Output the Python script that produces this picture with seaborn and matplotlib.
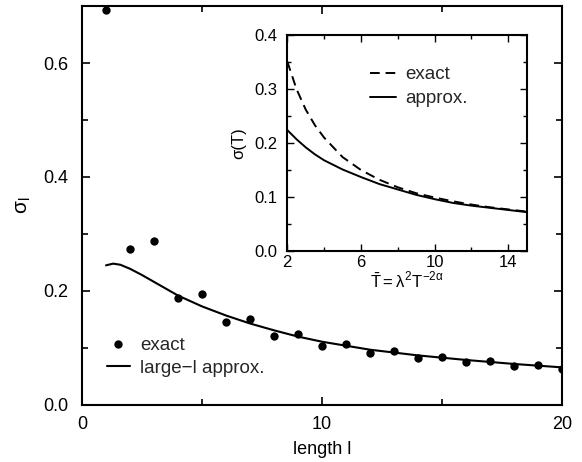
import numpy as np
import pandas as pd
import matplotlib
matplotlib.use("Agg")
import matplotlib.pyplot as plt
import seaborn as sns
from matplotlib.legend_handler import HandlerLine2D
from matplotlib.ticker import MultipleLocator, FixedLocator, FormatStrFormatter

# ---- main panel data ----
length_exact = [1, 2, 3, 4, 5, 6, 7, 8, 9, 10, 11, 12, 13, 14, 15, 16, 17, 18, 19, 20]
sigma_exact = [0.693, 0.274, 0.288, 0.188, 0.195, 0.146, 0.151, 0.121, 0.125, 0.104,
               0.107, 0.092, 0.094, 0.082, 0.084, 0.075, 0.077, 0.068, 0.070, 0.064]
length_approx = [1.0, 1.3, 1.6, 2.0, 2.5, 3.0, 3.5, 4.0, 5.0, 6.0, 7.0, 8.0, 9.0,
                 10.0, 12.0, 14.0, 16.0, 18.0, 20.0]
sigma_approx = [0.245, 0.248, 0.246, 0.239, 0.228, 0.216, 0.204, 0.192, 0.173, 0.157,
                0.143, 0.131, 0.120, 0.111, 0.097, 0.087, 0.079, 0.072, 0.066]

# ---- inset data ----
T_vals = [2, 2.5, 3, 3.5, 4, 5, 6, 7, 8, 9, 10, 11, 12, 13, 14, 15]
inset_exact = [0.351, 0.300, 0.262, 0.233, 0.210, 0.174, 0.150, 0.132, 0.118, 0.107,
               0.099, 0.092, 0.086, 0.081, 0.077, 0.073]
inset_approx = [0.224, 0.207, 0.192, 0.179, 0.168, 0.151, 0.137, 0.124, 0.114, 0.104,
                0.096, 0.089, 0.084, 0.080, 0.076, 0.072]

sns.set_theme(style="ticks")
plt.rcParams['font.family'] = ['Liberation Sans', 'DejaVu Sans']
plt.rcParams['mathtext.fontset'] = 'custom'
plt.rcParams['mathtext.rm'] = 'Liberation Sans'
plt.rcParams['mathtext.it'] = 'Liberation Sans'
plt.rcParams['mathtext.sf'] = 'Liberation Sans'
plt.rcParams['axes.linewidth'] = 1.5
plt.rcParams['axes.edgecolor'] = 'black'

fig = plt.figure(figsize=(5.82, 4.62), dpi=100)
ax = fig.add_axes([0.1409, 0.1234, 0.8247, 0.8636])

df_exact = pd.DataFrame({'l': length_exact, 's': sigma_exact})
df_approx = pd.DataFrame({'l': length_approx, 's': sigma_approx})

sns.lineplot(data=df_exact, x='l', y='s', ax=ax, color='black', linestyle='none',
             marker='o', markersize=6, markeredgewidth=0, label='exact')
sns.lineplot(data=df_approx, x='l', y='s', ax=ax, color='black', lw=1.5,
             label='large\u2212l approx.')

ax.set_xlim(0, 20)
ax.set_ylim(0, 0.7)
ax.xaxis.set_major_locator(MultipleLocator(10))
ax.xaxis.set_minor_locator(MultipleLocator(5))
ax.yaxis.set_major_locator(MultipleLocator(0.2))
ax.yaxis.set_minor_locator(MultipleLocator(0.1))
ax.yaxis.set_major_formatter(FormatStrFormatter('%.1f'))
ax.tick_params(which='both', direction='in', top=True, right=True, labelsize=13,
               color='black', labelcolor='black', width=1.2)
ax.tick_params(axis='x', which='both', pad=8)
ax.tick_params(axis='y', which='both', pad=10)
ax.tick_params(which='major', length=6)
ax.tick_params(which='minor', length=4)
ax.set_xlabel('length l', fontsize=13, color='black', labelpad=6)
ax.set_ylabel('\u03c3$_\\mathrm{l}$', fontsize=15, color='black', labelpad=7)


class RightMarker(HandlerLine2D):
    def get_xdata(self, legend, xdescent, ydescent, width, height, fontsize):
        xd, xm = super().get_xdata(legend, xdescent, ydescent, width, height, fontsize)
        return xd, [-xdescent + width * 0.95]


ax.legend(loc='lower left', bbox_to_anchor=(0.052, 0.07), frameon=False,
          fontsize=13.5, borderpad=0, borderaxespad=0, handlelength=1.23,
          handletextpad=0.53, labelspacing=0.3,
          handler_map={matplotlib.lines.Line2D: RightMarker()})

# ---- inset ----
ins = fig.add_axes([0.4936, 0.4567, 0.4114, 0.4675])
df_in = pd.DataFrame({'T': T_vals + T_vals,
                      'sig': inset_exact + inset_approx,
                      'kind': ['exact'] * len(T_vals) + ['approx.'] * len(T_vals)})
sns.lineplot(data=df_in, x='T', y='sig', hue='kind', style='kind', ax=ins,
             palette={'exact': 'black', 'approx.': 'black'},
             dashes={'exact': (5, 3), 'approx.': ''}, lw=1.4)
ins.set_xlim(2, 15)
ins.set_ylim(0, 0.4)
ins.set_xticks([2, 6, 10, 14])
ins.xaxis.set_minor_locator(FixedLocator([4, 8, 12]))
ins.yaxis.set_major_locator(MultipleLocator(0.1))
ins.yaxis.set_minor_locator(MultipleLocator(0.05))
ins.yaxis.set_major_formatter(FormatStrFormatter('%.1f'))
ins.tick_params(which='both', direction='in', top=True, right=True, labelsize=12,
                color='black', labelcolor='black', width=1.0)
ins.tick_params(axis='x', which='both', pad=3)
ins.tick_params(axis='y', which='both', pad=7)
ins.tick_params(which='major', length=5)
ins.tick_params(which='minor', length=3)
ins.set_xlabel(r'$\bar{\mathrm{T}}\mathrm{=}\lambda^{2}\mathrm{T}^{-2\alpha}$',
               fontsize=12, color='black', labelpad=1)
ins.set_ylabel('\u03c3(T)', fontsize=12, color='black', labelpad=6)
h, l = ins.get_legend_handles_labels()
ins.legend(h, l, loc='upper left', bbox_to_anchor=(0.345, 0.855), frameon=False,
           fontsize=13.5, borderpad=0, borderaxespad=0, handlelength=1.4,
           handletextpad=0.48, labelspacing=0.36)

fig.savefig('out.png', dpi=100)
